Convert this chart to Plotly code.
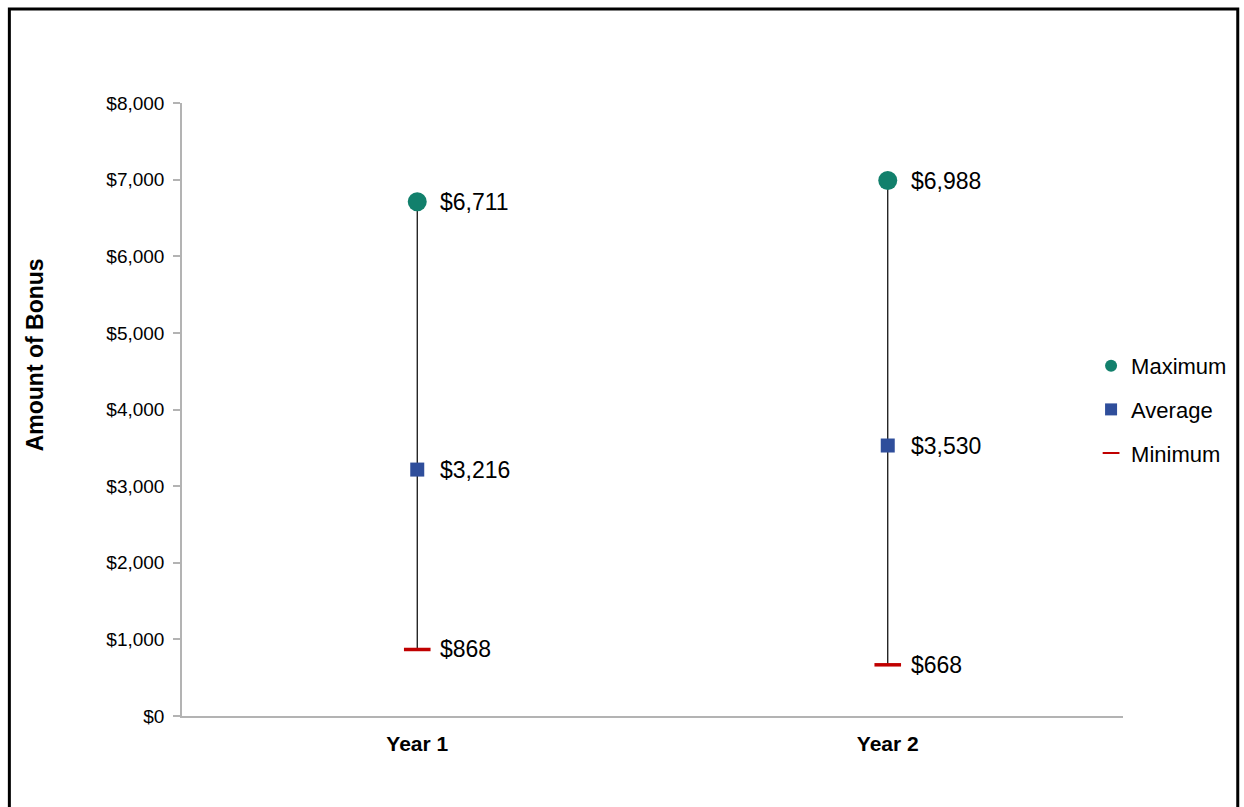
import plotly.graph_objects as go

# Bonus amounts by year
years = ["Year 1", "Year 2"]
maximum = [6711, 6988]
average = [3216, 3530]
minimum = [868, 668]

y_ticks = [0, 1000, 2000, 3000, 4000, 5000, 6000, 7000, 8000]
y_tick_text = [f"${v:,}" for v in y_ticks]

FONT = "Liberation Sans, Arial, sans-serif"
TEAL = "#12806C"
NAVY = "#2F4E9B"
RED = "#C00000"
AXIS_GREY = "#B3B3B3"

W, H = 1244, 807
L, R, T, B = 182, 119, 103, 91
plot_w = W - L - R
plot_h = H - T - B

fig = go.Figure()

# vertical range line from minimum to maximum for each year
line_x, line_y = [], []
for yr, lo, hi in zip(years, minimum, maximum):
    line_x += [yr, yr, None]
    line_y += [lo, hi, None]
fig.add_trace(go.Scatter(
    x=line_x, y=line_y, mode="lines",
    line=dict(color="black", width=1.2),
    showlegend=False, hoverinfo="skip",
))

fig.add_trace(go.Scatter(
    x=years, y=maximum, mode="markers", name="Maximum",
    legendgroup="max",
    marker=dict(symbol="circle", size=19, color=TEAL),
))
fig.add_trace(go.Scatter(
    x=years, y=average, mode="markers", name="Average",
    legendgroup="avg",
    marker=dict(symbol="square", size=14, color=NAVY),
))
fig.add_trace(go.Scatter(
    x=years, y=minimum, mode="markers", name="Minimum",
    legendgroup="min",
    marker=dict(symbol="line-ew", size=19, color=RED,
                line=dict(color=RED, width=3.5)),
))

# value labels to the right of each marker
for series in (maximum, average, minimum):
    for yr, v in zip(years, series):
        fig.add_annotation(
            x=yr, y=v, xref="x", yref="y",
            text=f"${v:,.0f}", showarrow=False,
            xanchor="left", yanchor="middle", xshift=21,
            font=dict(family=FONT, size=23, color="black"),
        )

# y-axis title
fig.add_annotation(
    x=(35 - L) / plot_w, y=(H - B - 355) / plot_h,
    xref="paper", yref="paper",
    text="<b>Amount of Bonus</b>", textangle=-90, showarrow=False,
    xanchor="center", yanchor="middle",
    font=dict(family=FONT, size=23, color="black"),
)

# outer frame around the chart
fig.add_shape(
    type="rect", xref="paper", yref="paper",
    x0=(9 - L) / plot_w, x1=(1240 - L) / plot_w,
    y0=-0.3, y1=(H - B - 9) / plot_h,
    line=dict(color="black", width=3), fillcolor="rgba(0,0,0,0)",
    layer="below",
)

fig.update_layout(
    width=W, height=H,
    margin=dict(l=L, r=R, t=T, b=B, pad=0),
    paper_bgcolor="white", plot_bgcolor="white",
    font=dict(family=FONT, size=19, color="black"),
    showlegend=True,
    legend=dict(
        x=(1093 - L) / plot_w, xanchor="left",
        y=0.5, yanchor="middle",
        font=dict(family=FONT, size=22, color="black"),
        tracegroupgap=12, traceorder="grouped",
        bgcolor="rgba(0,0,0,0)", itemsizing="constant",
    ),
    xaxis=dict(
        type="category", range=[-0.5, 1.5],
        showline=True, linecolor=AXIS_GREY, linewidth=1.5,
        ticks="", showgrid=False, zeroline=False,
        tickfont=dict(family=FONT, size=21, color="black", weight="bold"),
        ticklabelstandoff=8,
    ),
    yaxis=dict(
        range=[0, 8000], tickvals=y_ticks, ticktext=y_tick_text,
        showline=True, linecolor=AXIS_GREY, linewidth=1.5,
        ticks="outside", ticklen=7, tickcolor=AXIS_GREY, tickwidth=1.5,
        showgrid=False, zeroline=False,
        tickfont=dict(family=FONT, size=19, color="black"),
        ticklabelstandoff=5,
    ),
)

fig.write_html("out.html")
